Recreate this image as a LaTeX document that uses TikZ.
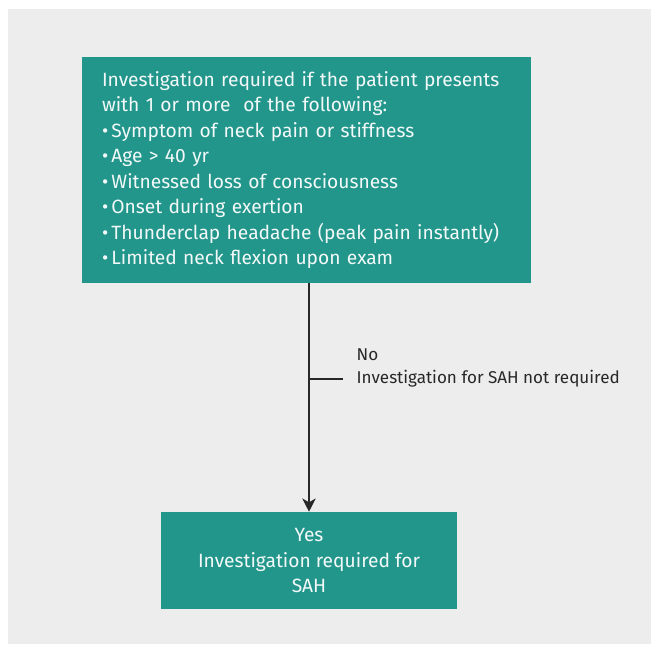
\documentclass[tikz,border=0pt]{standalone}
\usepackage{fontspec}
\setmainfont{Fira Sans}
\usepackage{xcolor}
\usetikzlibrary{arrows.meta, positioning}
\definecolor{tealbox}{RGB}{35, 150, 140}
\definecolor{panelgray}{RGB}{237, 237, 237}
\definecolor{labelgray}{RGB}{40, 40, 40}

\begin{document}
\begin{tikzpicture}[
    x=0.75pt, y=-0.75pt,
    decision/.style={
        rectangle, fill=tealbox, text=white!94!tealbox,
        font=\fontsize{14.4}{19.1}\selectfont, inner sep=0pt
    },
    arrow/.style={-{Stealth[length=10pt, width=10pt, inset=3pt]}, thick, labelgray}
]

% Background
\useasboundingbox (0, 0) rectangle (651, 644);
\fill[panelgray] (8, 9) rectangle (651, 644);

% Criteria
\node[decision, minimum width=449*0.75pt, minimum height=226*0.75pt,
      text width=409*0.75pt, align=left] (criteria) at (306.5, 170) {%
Investigation required if the patient presents\\
with 1 or more\ \ of the following:\\
\textbullet\,Symptom of neck pain or stiffness\\
\textbullet\,Age > 40 yr\\
\textbullet\,Witnessed loss of consciousness\\
\textbullet\,Onset during exertion\\
\textbullet\,Thunderclap headache (peak pain instantly)\\
\textbullet\,Limited neck flexion upon exam};

% Outcome
\node[decision, minimum width=296*0.75pt, minimum height=97*0.75pt,
      align=center] (yes) at (309, 560.5) {Yes\\Investigation required for\\SAH};

% No branch
\coordinate (tick) at (308, 379);
\coordinate (tickend) at (343, 379);
\node[anchor=west, align=left, text=labelgray, font=\fontsize{12.8}{17.5}\selectfont]
    (nolabel) at (352, 368) {No\\Investigation for SAH not required};

% Arrows
\draw[arrow] (criteria.south -| yes.north) -- (yes.north);
\draw[thick, labelgray] (tick) -- (tickend);

\end{tikzpicture}
\end{document}
